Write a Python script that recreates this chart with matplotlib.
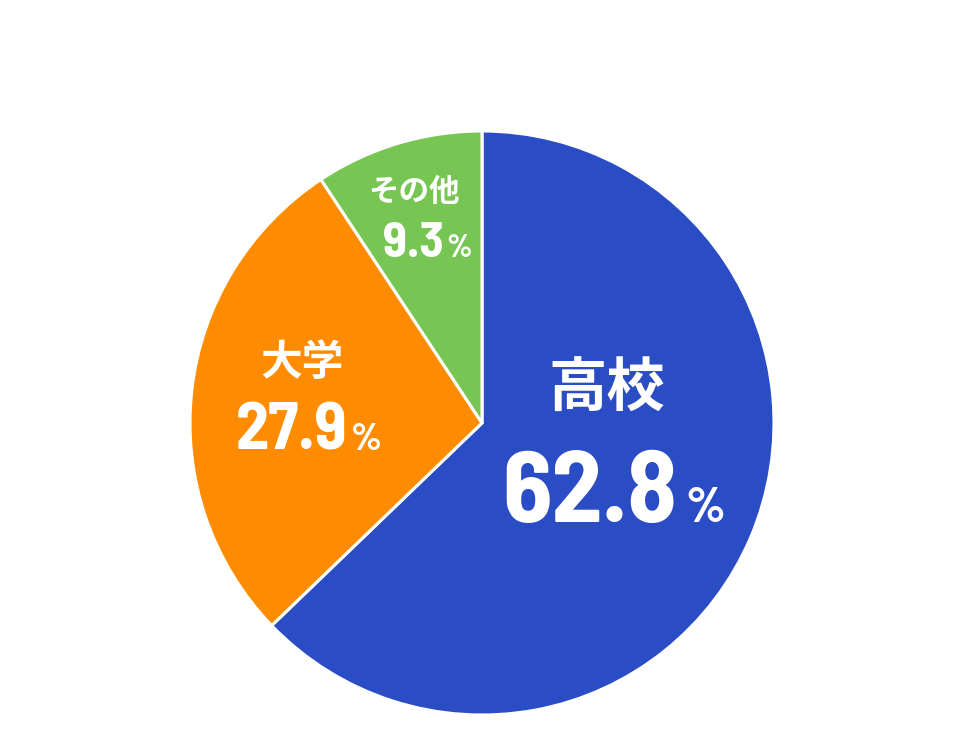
import matplotlib.pyplot as plt

categories = ['高校', '大学', 'その他']
values = [62.8, 27.9, 9.3]
colors = ['#2A4CC5', '#FF8C00', '#77C553']

W, H = 959, 751
cx, cy, r = 482, 423, 292

fig = plt.figure(figsize=(W / 100, H / 100), dpi=100)
ax = fig.add_axes([(cx - r) / W, (H - cy - r) / H, 2 * r / W, 2 * r / H])
ax.pie(values, colors=colors, startangle=90, counterclock=False, radius=1,
       wedgeprops=dict(edgecolor='white', linewidth=2.2))
ax.set_xlim(-1, 1)
ax.set_ylim(-1, 1)
ax.set_aspect('equal')
ax.axis('off')


def px(x, y):
    return (x - cx) / r, (cy - y) / r


jp = ['Noto Sans CJK JP', 'DejaVu Sans']
num = ['Barlow Semi Condensed', 'DejaVu Sans']

# label: centre, size ; number: right edge, baseline, size ; percent: left edge, size
label_pos = [((607, 390), 42), ((302, 363), 30), ((414, 192), 22)]
num_pos = [((677, 522), 73), ((347, 450), 48), ((444, 257), 36)]
pct_pos = [(685, 36), (351, 28), (446, 23)]

for cat, val, (lp, ls), (np_, ns), (pxl, ps) in zip(categories, values, label_pos, num_pos, pct_pos):
    ax.text(*px(*lp), cat, ha='center', va='center', fontsize=ls,
            color='white', fontweight='bold', family=jp)
    ax.text(*px(*np_), f'{val:.1f}', ha='right', va='baseline', fontsize=ns,
            color='white', fontweight='bold', family=num)
    ax.text(*px(pxl, np_[1]), '%', ha='left', va='baseline',
            fontsize=ps, color='white', fontweight='bold', family=num)

fig.savefig('out.png', dpi=100)
